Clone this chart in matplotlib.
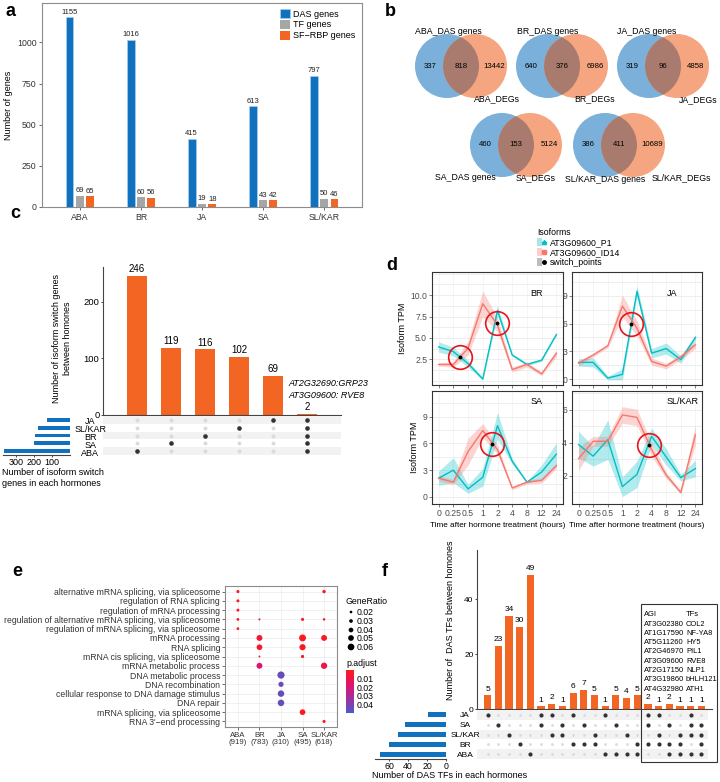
import numpy as np
import matplotlib
matplotlib.use("Agg")
import matplotlib.pyplot as plt
from matplotlib.patches import Circle, Rectangle, Patch
from matplotlib.lines import Line2D
from matplotlib.colors import LinearSegmentedColormap, Normalize
from matplotlib.cm import ScalarMappable
from matplotlib.legend_handler import HandlerTuple
from matplotlib.ticker import MultipleLocator

plt.rcParams['font.family'] = ['Liberation Sans', 'DejaVu Sans']

# ---------------- data ----------------
# a
hormones = ['ABA', 'BR', 'JA', 'SA', 'SL/KAR']
das_genes = [1155, 1016, 415, 613, 797]
tf_genes = [69, 60, 19, 43, 50]
sfrbp_genes = [65, 56, 18, 42, 46]

# b
das_only = [337, 640, 319, 460, 386]
das_deg_shared = [818, 376, 96, 153, 411]
deg_only = [13442, 6986, 4858, 5124, 10689]

# c
c_rows = ['JA', 'SL/KAR', 'BR', 'SA', 'ABA']
c_row_sizes = [130, 180, 195, 200, 370]
c_counts = [246, 119, 116, 102, 69, 2]
c_sets = [['ABA'], ['SA'], ['BR'], ['SL/KAR'], ['JA'],
          ['JA', 'SL/KAR', 'BR', 'SA', 'ABA']]

# d
times = ['0', '0.25', '0.5', '1', '2', '4', '8', '12', '24']
br_p1 = [3.95, 3.4, 2.0, 0.2, 8.2, 3.0, 1.9, 2.4, 5.4]
br_p1_ci = [0.6, 0.5, 0.4, 0.15, 0.6, 0.15, 0.15, 0.15, 0.15]
br_id14 = [1.9, 1.9, 3.8, 9.0, 6.5, 1.3, 1.9, 0.8, 3.2]
br_id14_ci = [0.2, 0.3, 0.8, 1.5, 0.8, 0.3, 0.3, 0.2, 0.4]
br_switch_t = [1.45, 3.95]
br_switch_v = [2.8, 6.7]

ja_p1 = [1.8, 1.8, 0.1, 0.5, 9.5, 2.8, 3.3, 2.1, 4.5]
ja_p1_ci = [0.4, 0.5, 0.2, 0.6, 0.6, 0.5, 0.6, 0.4, 0.3]
ja_id14 = [1.7, 2.6, 3.6, 7.9, 5.5, 1.9, 1.4, 2.4, 3.7]
ja_id14_ci = [0.3, 0.2, 0.2, 1.2, 0.8, 0.4, 0.3, 0.3, 0.4]
ja_switch_t = [3.6]
ja_switch_v = [6.0]

sa_p1 = [2.1, 3.0, 0.9, 2.2, 8.0, 4.0, 1.65, 2.8, 4.8]
sa_p1_ci = [0.8, 1.4, 0.5, 1.0, 1.5, 0.3, 0.1, 0.8, 1.3]
sa_id14 = [2.1, 1.65, 5.1, 7.45, 5.3, 1.0, 1.65, 1.85, 3.5]
sa_id14_ci = [0.3, 0.3, 1.5, 0.8, 0.5, 0.2, 0.2, 0.3, 0.3]
sa_switch_t = [3.64]
sa_switch_v = [5.9]

slk_p1 = [3.9, 3.2, 4.2, 1.35, 2.1, 4.4, 3.15, 1.9, 2.45]
slk_p1_ci = [0.8, 0.6, 1.2, 0.6, 0.8, 0.5, 0.5, 0.2, 0.5]
slk_id14 = [3.05, 4.1, 4.1, 5.7, 5.55, 3.6, 2.05, 1.0, 4.5]
slk_id14_ci = [0.7, 0.3, 0.3, 0.5, 0.5, 0.4, 0.2, 0.1, 0.6]
slk_switch_t = [4.8]
slk_switch_v = [3.9]

# e
e_terms = ['alternative mRNA splicing, via spliceosome',
           'regulation of RNA splicing',
           'regulation of mRNA processing',
           'regulation of alternative mRNA splicing, via spliceosome',
           'regulation of mRNA splicing, via spliceosome',
           'mRNA processing',
           'RNA splicing',
           'mRNA cis splicing, via spliceosome',
           'mRNA metabolic process',
           'DNA metabolic process',
           'DNA recombination',
           'cellular response to DNA damage stimulus',
           'DNA repair',
           'mRNA splicing, via spliceosome',
           "RNA 3'\u2212end processing"]
e_counts = [919, 783, 310, 495, 618]
e_dot_group = ['ABA'] * 5 + ['BR'] * 5 + ['JA'] * 4 + ['SA'] * 5 + ['SL/KAR'] * 5
e_dot_term = [1, 2, 3, 4, 5, 4, 6, 7, 8, 9, 10, 11, 12, 13, 4, 6, 7, 8, 14, 1, 4, 6, 9, 15]
e_gene_ratio = [0.024, 0.023, 0.023, 0.021, 0.021,
                0.013, 0.052, 0.05, 0.012, 0.052,
                0.065, 0.045, 0.058, 0.058,
                0.024, 0.062, 0.055, 0.025, 0.05,
                0.027, 0.018, 0.052, 0.056, 0.024]
e_padj = [0.002] * 5 + [0.006, 0.006, 0.006, 0.008, 0.017] + [0.044] * 4 + \
         [0.003, 0.002, 0.002, 0.004, 0.003] + [0.004, 0.005, 0.004, 0.010, 0.005]

# f
f_rows = ['JA', 'SA', 'SL/KAR', 'BR', 'ABA']
f_row_sizes = [19, 43, 50, 60, 69]
f_counts = [5, 23, 34, 30, 49, 1, 2, 1, 6, 7, 5, 1, 5, 4, 5, 2, 1, 2, 1, 1, 1]
f_sets = [['JA'], ['SA'], ['SL/KAR'], ['BR'], ['ABA'],
          ['JA', 'SA'], ['JA', 'SL/KAR'], ['SA', 'SL/KAR'], ['JA', 'BR'], ['SA', 'BR'],
          ['SL/KAR', 'BR'], ['JA', 'ABA'], ['SA', 'ABA'], ['SL/KAR', 'ABA'], ['BR', 'ABA'],
          ['JA', 'SA', 'BR'], ['JA', 'SL/KAR', 'BR'], ['SA', 'BR', 'ABA'],
          ['SL/KAR', 'BR', 'ABA'], ['JA', 'SA', 'SL/KAR', 'ABA'], ['SA', 'SL/KAR', 'BR', 'ABA']]
f_agi = ['AT3G02380', 'AT1G17590', 'AT5G11260', 'AT2G46970',
         'AT3G09600', 'AT2G17150', 'AT3G19860', 'AT4G32980']
f_tf = ['COL2', 'NF-YA8', 'HY5', 'PIL1', 'RVE8', 'NLP1', 'bHLH121', 'ATH1']

BLUE = '#1071BE'
GREY = '#A6A6A6'
ORANGE = '#F26522'
CYAN = '#00BFC4'
PINK = '#F8766D'

W, H = 720, 782
fig = plt.figure(figsize=(7.2, 7.82), dpi=100)


def box(x0, y0, x1, y1):
    return fig.add_axes([x0 / W, 1 - y1 / H, (x1 - x0) / W, (y1 - y0) / H])


def ftxt(x, y, s, **kw):
    fig.text(x / W, 1 - y / H, s, **kw)


for lab, (lx, ly) in zip('abcdef', [(6, 12), (385, 12), (10, 214), (386, 266), (12, 572), (382, 572)]):
    ftxt(lx, ly, lab, fontsize=13, fontweight='bold', va='center', ha='left')

# ---------------- a ----------------
ax = box(42, 3, 362, 207)
x = np.arange(len(hormones))
b1 = ax.bar(x - 0.17, das_genes, 0.13, color=BLUE, edgecolor='#A9D0F0', lw=0.5, label='DAS genes')
b2 = ax.bar(x, tf_genes, 0.13, color=GREY, label='TF genes')
b3 = ax.bar(x + 0.17, sfrbp_genes, 0.13, color=ORANGE, label='SF\u2212RBP genes')
for bc in (b1, b2, b3):
    ax.bar_label(bc, fontsize=5.5, padding=1, color='#222222')
ax.set_xlim(-0.62, 4.62)
ax.set_ylim(0, 1240)
ax.set_yticks([0, 250, 500, 750, 1000])
ax.set_xticks(x)
ax.set_xticklabels(hormones)
ax.tick_params(labelsize=6.3, length=2, width=0.5, colors='#333333', pad=2)
ax.set_ylabel('Number of genes', fontsize=6.5, labelpad=3)
for s in ax.spines.values():
    s.set_color('#8C8C8C')
    s.set_linewidth(0.8)
ax.legend(loc='upper right', frameon=False, fontsize=6.5, handlelength=1.1, handleheight=1.1,
          labelspacing=0.15, borderaxespad=0.3, handletextpad=0.4)

# ---------------- b ----------------
axb = box(360, 0, 720, 200)
axb.set_xlim(360, 720)
axb.set_ylim(200, 0)
axb.axis('off')
venn_mid_x = [461, 562, 663, 516, 619]
venn_mid_y = [66, 66, 66, 145, 145]
das_lab_off = [(-13, -34), (-14, -34), (-16, -34), (-51, 33), (-14, 35)]
deg_lab_off = [(36, 33), (33, 33), (35, 34), (20, 33), (62, 33)]
r, d = 32, 28
for i, h in enumerate(hormones):
    mx, my = venn_mid_x[i], venn_mid_y[i]
    cb = Circle((mx - d / 2, my), r, color='#7AB0DA', lw=0)
    co = Circle((mx + d / 2, my), r, color='#F5A57F', lw=0)
    axb.add_patch(cb)
    axb.add_patch(co)
    lens = Circle((mx + d / 2, my), r, color='#A97B6E', lw=0)
    axb.add_patch(lens)
    lens.set_clip_path(cb)
    axb.text(mx - r + 1, my, str(das_only[i]), ha='center', va='center', fontsize=5.6)
    axb.text(mx, my, str(das_deg_shared[i]), ha='center', va='center', fontsize=5.6)
    axb.text(mx + r + 1, my, str(deg_only[i]), ha='center', va='center', fontsize=5.6)
    axb.text(mx + das_lab_off[i][0], my + das_lab_off[i][1], h + '_DAS genes',
             ha='center', va='center', fontsize=6.3)
    axb.text(mx + deg_lab_off[i][0], my + deg_lab_off[i][1], h + '_DEGs',
             ha='center', va='center', fontsize=6.3)

# ---------------- c ----------------
axc = box(103, 267, 341, 415)
cx = np.arange(1, len(c_counts) + 1)
axc.bar(cx, c_counts, 0.6, color=ORANGE)
for xi, v in zip(cx, c_counts):
    axc.text(xi, v + 3, str(v), ha='center', va='bottom', fontsize=7)
axc.set_xlim(0, 7)
axc.set_ylim(0, 261)
axc.set_xticks([])
axc.set_yticks([0, 100, 200])
axc.tick_params(labelsize=6.8, length=1.5, width=0.5, pad=1)
axc.spines[['top', 'right']].set_visible(False)
axc.spines['left'].set_color('#444444')
axc.spines['bottom'].set_color('#444444')
axc.set_ylabel('Number of isoform switch genes\nbetween homones', fontsize=6.5, linespacing=1.3)
axc.yaxis.set_label_coords(-0.13, 0.52)
axc.text(5.45, 45, 'AT2G32690:GRP23\nAT3G09600: RVE8', style='italic', fontsize=6.5,
         va='center', ha='left', linespacing=1.3)

axcm = box(103, 416, 341, 455)
axcm.set_xlim(0, 7)
axcm.set_ylim(4.5, -0.5)
axcm.axis('off')
for ri, name in enumerate(c_rows):
    if ri % 2 == 0:
        axcm.axhspan(ri - 0.5, ri + 0.5, color='#F2F2F2', lw=0)
    axcm.text(-0.38, ri + 0.25, name, ha='center', va='center', fontsize=6.5, clip_on=False)
    for ci, members in enumerate(c_sets):
        on = name in members
        axcm.scatter(ci + 1, ri, s=11 if on else 8, color='#333333' if on else '#DADADA', lw=0, zorder=3)

axcs = box(3, 416, 70, 455)
axcs.barh(np.arange(len(c_rows)), c_row_sizes, 0.5, color=BLUE)
axcs.set_xlim(375, 0)
axcs.set_ylim(4.5, -0.5)
axcs.set_yticks([])
axcs.set_xticks([300, 200, 100])
axcs.tick_params(labelsize=6.5, length=1.5, width=0.5, pad=1)
axcs.spines[['top', 'right', 'left']].set_visible(False)
axcs.spines['bottom'].set_color('#444444')
ftxt(2, 468, 'Number of isoform switch\ngenes in each hormones', fontsize=6.5, va='top', ha='left',
     linespacing=1.35)

# ---------------- d ----------------
d_panels = [
    ('BR', (432, 272, 563, 385), br_p1, br_p1_ci, br_id14, br_id14_ci, br_switch_t, br_switch_v,
     (-0.5, 12.7), [2.5, 5.0, 7.5, 10.0], ['2.5', '5.0', '7.5', '10.0'], (0.80, 0.81)),
    ('JA', (572, 272, 702, 385), ja_p1, ja_p1_ci, ja_id14, ja_id14_ci, ja_switch_t, ja_switch_v,
     (-0.65, 11.6), [0, 3, 6, 9], ['0', '3', '6', '9'], (0.77, 0.81)),
    ('SA', (432, 391, 563, 504), sa_p1, sa_p1_ci, sa_id14, sa_id14_ci, sa_switch_t, sa_switch_v,
     (-0.8, 11.9), [0, 3, 6, 9], ['0', '3', '6', '9'], (0.80, 0.91)),
    ('SL/KAR', (572, 391, 702, 504), slk_p1, slk_p1_ci, slk_id14, slk_id14_ci, slk_switch_t, slk_switch_v,
     (0.3, 7.15), [2, 4, 6], ['2', '4', '6'], (0.85, 0.91)),
]
tx = np.arange(len(times))
for k, (name, bb, p1, p1c, id14, id14c, swt, swv, ylim, yt, ytl, lpos) in enumerate(d_panels):
    a = box(*bb)
    p1 = np.array(p1)
    id14 = np.array(id14)
    a.fill_between(tx, p1 - np.array(p1c), p1 + np.array(p1c), color=CYAN, alpha=0.3, lw=0)
    a.fill_between(tx, id14 - np.array(id14c), id14 + np.array(id14c), color=PINK, alpha=0.3, lw=0)
    a.plot(tx, p1, color=CYAN, lw=1)
    a.plot(tx, id14, color=PINK, lw=1)
    a.scatter(swt, swv, s=3, color='black', zorder=4)
    a.plot(swt, swv, ls='', marker='o', ms=17, mfc='none', mec='#E8141B', mew=1.2, zorder=5)
    a.set_xlim(-0.45, 8.45)
    a.set_ylim(*ylim)
    a.set_yticks(yt)
    a.set_yticklabels(ytl)
    step = yt[1] - yt[0]
    a.yaxis.set_minor_locator(MultipleLocator(step / 2))
    a.set_xticks(tx)
    a.grid(True, which='both', axis='y', color='#EBEBEB', lw=0.6)
    a.grid(True, which='major', axis='x', color='#F2F2F2', lw=0.5)
    a.set_axisbelow(True)
    a.tick_params(which='minor', length=0)
    a.tick_params(which='major', labelsize=6.2, length=2, width=0.5, colors='#4D4D4D', pad=1.5)
    for s in a.spines.values():
        s.set_color('#333333')
        s.set_linewidth(0.8)
    a.text(lpos[0], lpos[1], name, transform=a.transAxes, ha='center', va='center', fontsize=6.5)
    if k >= 2:
        a.set_xticklabels(times)
        a.set_xlabel('Time after hormone treatment (hours)', fontsize=5.9, labelpad=3)
    else:
        a.set_xticklabels([])
    if k % 2 == 0:
        a.set_ylabel('Isoform TPM', fontsize=6.5, labelpad=2)

h_p1 = (Patch(facecolor=CYAN, alpha=0.35, lw=0), Line2D([], [], color=CYAN, marker='^', ms=3, lw=1))
h_id = (Patch(facecolor=PINK, alpha=0.35, lw=0), Line2D([], [], color=PINK, marker='s', ms=3, lw=1))
h_sw = (Patch(facecolor='#BDBDBD', lw=0), Line2D([], [], color='black', marker='o', ms=2.5, ls=''))
fig.legend([h_p1, h_id, h_sw], ['AT3G09600_P1', 'AT3G09600_ID14', 'switch_points'],
           title='Isoforms', loc='upper left', bbox_to_anchor=(533 / W, 1 - 224 / H), frameon=False,
           fontsize=6.3, title_fontsize=6.3, handler_map={tuple: HandlerTuple(ndivide=None)},
           handlelength=1.0, handleheight=1.0, labelspacing=0.1, borderpad=0, handletextpad=0.4,
           alignment='left')

# ---------------- e ----------------
cmap = LinearSegmentedColormap.from_list('padj', ['#FF1A1A', '#E0146A', '#A0309E', '#4B5BC7'])
norm = Normalize(0.001, 0.049)


def dot_size(ratio):
    return (0.72 * (2.7 + 100 * (np.asarray(ratio) - 0.02))) ** 2


axe = box(225, 586, 337, 727)
ex = [hormones.index(g) + 1 for g in e_dot_group]
axe.scatter(ex, e_dot_term, s=dot_size(e_gene_ratio), c=e_padj, cmap=cmap, norm=norm, lw=0, zorder=3)
axe.set_xlim(0.4, 5.6)
axe.set_ylim(15.6, 0.4)
axe.set_yticks(np.arange(1, len(e_terms) + 1))
axe.set_yticklabels(e_terms, fontsize=6.2)
axe.set_xticks(np.arange(1, 6))
axe.set_xticklabels(['%s\n(%d)' % (h, n) for h, n in zip(hormones, e_counts)], linespacing=1.1,
                    fontsize=5.6)
axe.grid(True, color='#EBEBEB', lw=0.5)
axe.set_axisbelow(True)
axe.tick_params(length=2, width=0.5, colors='#333333', pad=1.5)
for s in axe.spines.values():
    s.set_color('#8C8C8C')
    s.set_linewidth(0.8)

ftxt(346, 602, 'GeneRatio', fontsize=6.3, va='center', ha='left')
axl = box(343, 606, 400, 652)
axl.set_xlim(343, 400)
axl.set_ylim(652, 606)
axl.axis('off')
leg_ratios = [0.02, 0.03, 0.04, 0.05, 0.06]
leg_y = [612, 621, 630, 638, 647]
axl.scatter([351] * 5, leg_y, s=dot_size(leg_ratios), color='black', lw=0)
for yy, rr in zip(leg_y, leg_ratios):
    axl.text(357, yy, '%.2f' % rr, fontsize=6.3, va='center', ha='left')
ftxt(346, 664, 'p.adjust', fontsize=6.3, va='center', ha='left')
cax = box(346, 670, 354, 713)
cb = fig.colorbar(ScalarMappable(norm=norm, cmap=cmap), cax=cax, ticks=[0.01, 0.02, 0.03, 0.04])
cb.outline.set_visible(False)
cax.invert_yaxis()
cax.tick_params(labelsize=6.3, length=0, pad=2)

# ---------------- f ----------------
axf = box(477, 550, 712, 709)
fx = np.arange(1, len(f_counts) + 1)
axf.bar(fx, f_counts, 0.68, color=ORANGE)
for xi, v in zip(fx, f_counts):
    axf.text(xi, v + 1, str(v), ha='center', va='bottom', fontsize=6)
axf.set_xlim(0, 22)
axf.set_ylim(0, 58)
axf.set_xticks([])
axf.set_yticks([0, 20, 40])
axf.tick_params(labelsize=6, length=1.5, width=0.5, pad=1)
axf.spines[['top', 'right']].set_visible(False)
axf.spines['left'].set_color('#444444')
axf.spines['bottom'].set_color('#444444')
axf.set_ylabel('Number of  DAS TFs between homones', fontsize=6.5)
axf.yaxis.set_label_coords(-0.094, 0.56)

axfm = box(477, 710, 712, 759)
axfm.set_xlim(0, 22)
axfm.set_ylim(4.5, -0.5)
axfm.axis('off')
for ri, name in enumerate(f_rows):
    if ri % 2 == 0:
        axfm.axhspan(ri - 0.5, ri + 0.5, xmax=21.6 / 22, color='#F2F2F2', lw=0)
    axfm.text(-1.1, ri + 0.1, name, ha='center', va='center', fontsize=6, clip_on=False)
    for ci, members in enumerate(f_sets):
        on = name in members
        axfm.scatter(ci + 1, ri, s=9 if on else 4, color='#333333' if on else '#DADADA', lw=0, zorder=3)

axfs = box(375, 710, 446, 759)
axfs.barh(np.arange(len(f_rows)), f_row_sizes, 0.5, color=BLUE)
axfs.set_xlim(74.7, 0)
axfs.set_ylim(4.5, -0.5)
axfs.set_yticks([])
axfs.set_xticks([60, 40, 20, 0])
axfs.tick_params(labelsize=6.3, length=1.5, width=0.5, pad=1)
axfs.spines[['top', 'right', 'left']].set_visible(False)
axfs.spines['bottom'].set_color('#444444')
ftxt(450, 776, 'Number of DAS TFs in each hormones', fontsize=6.5, va='center', ha='center')

fig.add_artist(Rectangle((641 / W, 1 - 762 / H), 76 / W, 158 / H, transform=fig.transFigure,
                         fill=False, ec='#333333', lw=0.8))
ftxt(644, 615, 'AGI', fontsize=5.4, va='center', ha='left')
ftxt(686, 615, 'TFs', fontsize=5.4, va='center', ha='left')
for i, (agi, tf) in enumerate(zip(f_agi, f_tf)):
    ftxt(644, 624 + i * 9.3, agi, fontsize=5.4, va='center', ha='left')
    ftxt(686, 624 + i * 9.3, tf, fontsize=5.4, va='center', ha='left')

fig.savefig('out.png', dpi=100)
